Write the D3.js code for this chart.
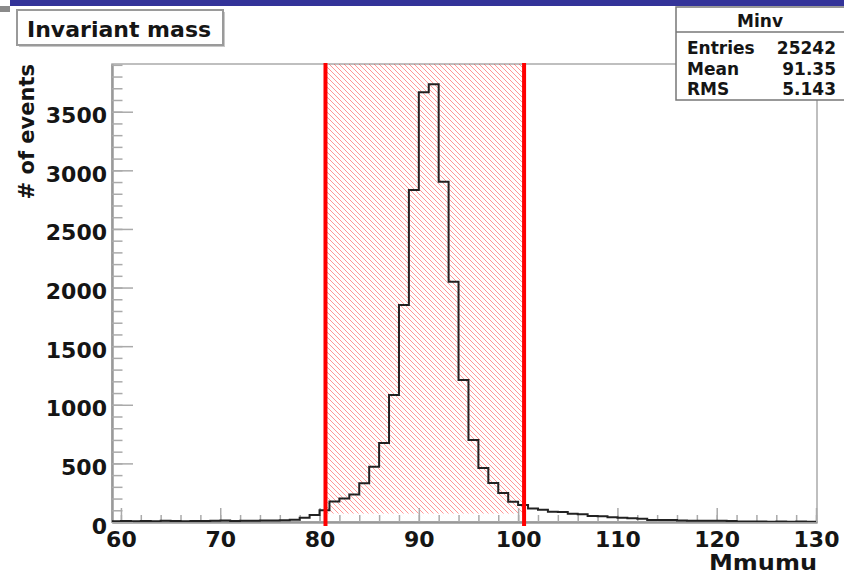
<!DOCTYPE html>
<html>
<head>
<meta charset="utf-8">
<script src="https://cdn.jsdelivr.net/npm/d3@7"></script>
<style>
  body { margin: 0; background: #fff; }
  svg text { font-family: "DejaVu Sans", sans-serif; font-weight: bold; fill: #151515; }
</style>
</head>
<body>
<svg id="chart" width="844" height="576"></svg>
<script>
// histogram Minv, 1 GeV bins (lower edges)
const binLow = d3.range(59, 130);
const counts = [
  6, 8, 6, 9, 7, 10, 8, 6, 9, 8,
  10, 12, 9, 11, 10, 12, 13, 15, 20, 37,
  60, 100, 175, 200, 235, 330, 472, 674, 1083, 1851,
  2832, 3665, 3734, 2903, 2050, 1211, 700, 460, 333, 247,
  173, 145, 115, 105, 88, 85, 70, 66, 52, 48,
  40, 36, 31, 28, 18, 17, 16, 12, 11, 11,
  10, 11, 9, 5, 4, 5, 3, 4, 3, 4,
  3
];
const massRange = [59.1, 130.1];
const countMax = 3907;

// selection window
const cutLow = 80.6;
const cutHigh = 100.6;
const cutFloor = 72;

const xTicks = [60, 70, 80, 90, 100, 110, 120, 130];
const xMinor = d3.range(60, 131, 2);
const yTicks = [0, 500, 1000, 1500, 2000, 2500, 3000, 3500];
const yMinor = d3.range(0, 3901, 100);

const histTitle = "Invariant mass";
const xTitle = "Mmumu";
const yTitle = "# of events";
const statsName = "Minv";
const statsRows = [["Entries", "25242"], ["Mean", "91.35"], ["RMS", "5.143"]];

const frame = { left: 112, right: 817, top: 64, bottom: 522 };

let svg = d3.select("#chart");

let x = d3.scaleLinear().domain(massRange).range([frame.left, frame.right]);
let y = d3.scaleLinear().domain([0, countMax]).range([frame.bottom, frame.top]);

// top slide bar
svg.append("rect").attr("x", 10).attr("y", 0).attr("width", 834).attr("height", 6).attr("fill", "#333399");
svg.append("rect").attr("x", 0).attr("y", 6).attr("width", 10).attr("height", 6).attr("fill", "#8a8a8a");

let defs = svg.append("defs");
let pattern = defs.append("pattern")
  .attr("id", "hatch")
  .attr("width", 5)
  .attr("height", 5)
  .attr("patternUnits", "userSpaceOnUse");
pattern.append("path")
  .attr("d", "M0,0 L5,5 M-1,4 L1,6 M4,-1 L6,1")
  .attr("stroke", "#ff3030")
  .attr("stroke-width", 1)
  .attr("stroke-opacity", 0.5);

defs.append("clipPath").attr("id", "frameClip")
  .append("rect")
  .attr("x", frame.left).attr("y", frame.top)
  .attr("width", frame.right - frame.left).attr("height", frame.bottom - frame.top);

// frame
svg.append("rect")
  .attr("x", frame.left).attr("y", frame.top)
  .attr("width", frame.right - frame.left).attr("height", frame.bottom - frame.top)
  .attr("fill", "none").attr("stroke", "#aaa").attr("stroke-width", 1.5);

// hatched window
svg.append("rect")
  .attr("x", x(cutLow)).attr("y", y(countMax))
  .attr("width", x(cutHigh) - x(cutLow))
  .attr("height", y(cutFloor) - y(countMax))
  .attr("fill", "url(#hatch)");

// axes
let xAxis = svg.append("g").attr("transform", `translate(0,${frame.bottom})`)
  .call(d3.axisBottom(x).tickValues(xTicks).tickSize(-14).tickSizeOuter(0).tickPadding(9));
svg.append("g").attr("transform", `translate(0,${frame.bottom})`)
  .call(d3.axisBottom(x).tickValues(xMinor).tickSize(-7).tickSizeOuter(0).tickFormat(""));

let yAxis = svg.append("g").attr("transform", `translate(${frame.left},0)`)
  .call(d3.axisLeft(y).tickValues(yTicks).tickFormat(d3.format("d"))
    .tickSize(-21).tickSizeOuter(0).tickPadding(5));
svg.append("g").attr("transform", `translate(${frame.left},0)`)
  .call(d3.axisLeft(y).tickValues(yMinor).tickSize(-10.5).tickSizeOuter(0).tickFormat(""));

svg.selectAll(".domain").attr("stroke", "#999").attr("stroke-width", 2);
svg.selectAll(".tick line").attr("stroke", "#aaa").attr("stroke-width", 1.5);
xAxis.selectAll("text").attr("font-size", 22).attr("fill", "#151515");
yAxis.selectAll("text").attr("font-size", 22).attr("fill", "#151515").attr("dy", "0.5em");

// histogram outline
let steps = [];
binLow.forEach(function (low, i) {
  steps.push([low, counts[i]]);
  steps.push([low + 1, counts[i]]);
});
let line = d3.line().x(d => x(d[0])).y(d => y(d[1]));
svg.append("path")
  .attr("d", line(steps))
  .attr("clip-path", "url(#frameClip)")
  .attr("fill", "none")
  .attr("stroke", "#222")
  .attr("stroke-width", 2);

// cut lines
[cutLow, cutHigh].forEach(function (c) {
  svg.append("line")
    .attr("x1", x(c)).attr("x2", x(c))
    .attr("y1", y(countMax) - 1).attr("y2", y(0) + 4)
    .attr("stroke", "#ff0000").attr("stroke-width", 4);
});

// axis titles
svg.append("text")
  .attr("x", frame.right).attr("y", 570)
  .attr("text-anchor", "end").attr("font-size", 22)
  .attr("textLength", 108).attr("lengthAdjust", "spacingAndGlyphs")
  .text(xTitle);
svg.append("text")
  .attr("transform", `translate(34,${frame.top}) rotate(-90)`)
  .attr("text-anchor", "end").attr("font-size", 21)
  .text(yTitle);

// title box
svg.append("rect").attr("x", 19).attr("y", 12).attr("width", 206).attr("height", 35).attr("fill", "#c8c8c8");
svg.append("rect").attr("x", 17).attr("y", 10).attr("width", 206).attr("height", 35)
  .attr("fill", "#fff").attr("stroke", "#9a9a9a").attr("stroke-width", 2);
svg.append("text").attr("x", 27).attr("y", 37).attr("font-size", 22).text(histTitle);

// stats box
let stats = svg.append("g");
stats.append("rect").attr("x", 676).attr("y", 7).attr("width", 180).attr("height", 93)
  .attr("fill", "#fff").attr("stroke", "#777").attr("stroke-width", 1.5);
stats.append("line").attr("x1", 676).attr("x2", 844).attr("y1", 32).attr("y2", 32)
  .attr("stroke", "#777").attr("stroke-width", 1.5);
stats.append("text").attr("x", 760).attr("y", 27).attr("text-anchor", "middle")
  .attr("font-size", 17).text(statsName);
statsRows.forEach(function (row, i) {
  let baseline = 54 + i * 20.5;
  stats.append("text").attr("x", 687).attr("y", baseline).attr("font-size", 17).text(row[0]);
  stats.append("text").attr("x", 836).attr("y", baseline).attr("text-anchor", "end")
    .attr("font-size", 17).text(row[1]);
});
</script>
</body>
</html>
